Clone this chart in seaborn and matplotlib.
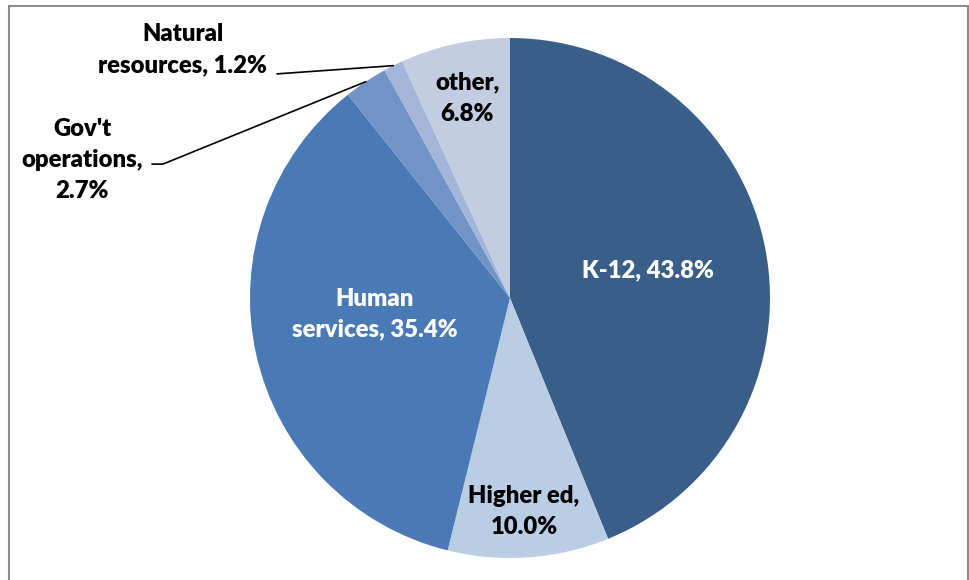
import numpy as np
import matplotlib
matplotlib.use("Agg")
import matplotlib.pyplot as plt
import seaborn as sns
from matplotlib.patches import Rectangle

# Data
label_names = ["K-12, 43.8%", "Higher ed,\n10.0%", "Human\nservices, 35.4%", "Gov't\noperations,\n2.7%",
               "Natural\nresources, 1.2%", "other,\n6.8%"]
shares = [43.8, 10.0, 35.4, 2.7, 1.2, 6.8]

colors = ["#3A5E8A", "#B9CDE5", "#4A7AB5", "#7293C6", "#A3B6D8", "#C2CDE2"]
text_colors = ["white", "black", "white", "black", "black", "black"]
# label positions in pie units (radius = 1)
label_xy = [(0.531, 0.108), (0.054, -0.823), (-0.519, -0.062), (-1.646, 0.531),
            (-1.258, 0.954), (-0.165, 0.769)]

sns.set_style("white")
plt.rcParams['font.family'] = ['Lato', 'DejaVu Sans']

W, H = 969, 580
fig = plt.figure(figsize=(W / 100, H / 100), dpi=100)
R = 260
cx, cy = 510, 298
ax = fig.add_axes([(cx - R) / W, (H - cy - R) / H, 2 * R / W, 2 * R / H])

wedges, _ = ax.pie(shares, colors=sns.color_palette(colors), startangle=90, counterclock=False,
                   radius=1, wedgeprops=dict(linewidth=0))
ax.set_xlim(-1, 1)
ax.set_ylim(-1, 1)
ax.set_aspect("equal")
ax.axis("off")

fs = 17.2
ls = 1.5
for lab, tc, (x, y) in zip(label_names, text_colors, label_xy):
    ax.text(x, y, lab, color=tc, ha="center", va="center",
            fontsize=fs, fontweight="heavy", linespacing=ls)

# leader lines for the small slices
def edge(w):
    mid = np.deg2rad((w.theta1 + w.theta2) / 2)
    return np.cos(mid), np.sin(mid)

ex, ey = edge(wedges[3])
ax.plot([ex, -1.335, -1.377], [ey, 0.515, 0.515], color="black", lw=1.2, clip_on=False)

ex, ey = edge(wedges[4])
ax.plot([ex, -0.896], [ey, 0.862], color="black", lw=1.2, clip_on=False)

# outer border
fig.patches.append(Rectangle((9 / W, -0.05), (968 - 9) / W, (H - 6) / H + 0.05,
                             transform=fig.transFigure, fill=False, edgecolor="#8C8C8C", lw=1.5))

fig.savefig("out.png", dpi=100)
